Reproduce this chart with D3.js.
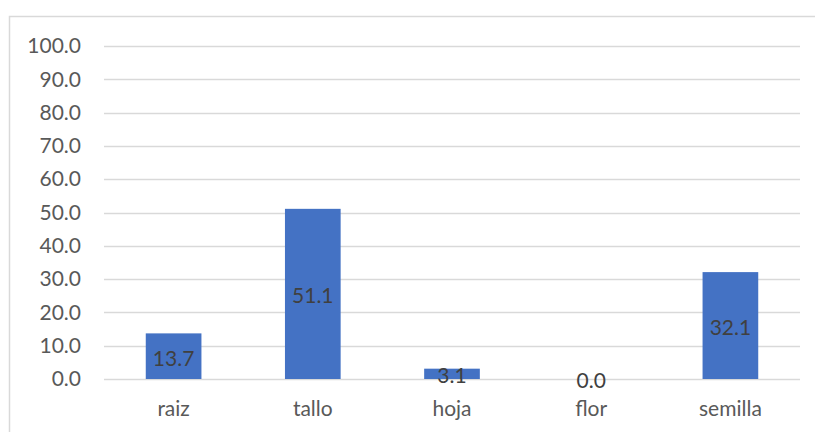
<!DOCTYPE html>
<html>
<head>
<meta charset="utf-8">
<script src="https://cdn.jsdelivr.net/npm/d3@7"></script>
<style>
  html, body { margin: 0; padding: 0; background: #fff; }
  svg { display: block; font-family: Lato, "Liberation Sans", Arial, sans-serif; }
</style>
</head>
<body>
<div id="app"></div>
<script>
const categories = ['raiz', 'tallo', 'hoja', 'flor', 'semilla'];
const values = [13.7, 51.1, 3.1, 0.0, 32.1];
const yTicks = [0, 10, 20, 30, 40, 50, 60, 70, 80, 90, 100];

const conf = {
  width: 815,
  height: 432,
  margin: { top: 46, right: 15, bottom: 53, left: 104 },
  font: 'Lato, "Liberation Sans", Arial, sans-serif',
  fontSize: '21px'
};

const svg = d3.select('#app').append('svg')
  .attr('width', conf.width)
  .attr('height', conf.height);

// chart border (runs off the right and bottom edge)
svg.append('rect')
  .attr('x', 9.5).attr('y', 16.5)
  .attr('width', 830).attr('height', 440)
  .attr('fill', 'none')
  .attr('stroke', '#d9d9d9')
  .attr('stroke-width', 1.5);

const x = d3.scaleBand()
  .domain(categories)
  .range([conf.margin.left, conf.width - conf.margin.right])
  .paddingInner(0.6)
  .paddingOuter(0.3);

const y = d3.scaleLinear()
  .domain([0, 100])
  .range([conf.height - conf.margin.bottom, conf.margin.top]);

// gridlines
svg.append('g')
  .selectAll('line')
  .data(yTicks)
  .enter()
  .append('line')
  .attr('x1', conf.margin.left)
  .attr('x2', conf.width - conf.margin.right)
  .attr('y1', d => Math.round(y(d)) + 0.5)
  .attr('y2', d => Math.round(y(d)) + 0.5)
  .attr('stroke', '#d9d9d9')
  .attr('stroke-width', 1.5);

// y axis labels
const yAxis = svg.append('g')
  .attr('transform', `translate(${conf.margin.left - 23}, 0)`)
  .call(d3.axisLeft(y).tickValues(yTicks).tickFormat(d3.format('.1f')).tickSize(0).tickPadding(0));
yAxis.select('.domain').remove();
yAxis.selectAll('text')
  .attr('fill', '#595959')
  .style('font-size', conf.fontSize)
  .style('font-family', conf.font);

// x axis labels
const xAxis = svg.append('g')
  .attr('transform', `translate(0, ${y(0) + 22})`)
  .call(d3.axisBottom(x).tickSize(0).tickPadding(0));
xAxis.select('.domain').remove();
xAxis.selectAll('text')
  .attr('fill', '#595959')
  .style('font-size', conf.fontSize)
  .style('font-family', conf.font);

// bars
svg.append('g')
  .selectAll('rect')
  .data(categories)
  .enter()
  .append('rect')
  .attr('x', d => x(d))
  .attr('y', (d, i) => y(values[i]))
  .attr('width', x.bandwidth())
  .attr('height', (d, i) => y(0) - y(values[i]))
  .attr('fill', '#4472c4');

// data labels, centred in the bar
svg.append('g')
  .selectAll('text')
  .data(categories)
  .enter()
  .append('text')
  .attr('x', d => x(d) + x.bandwidth() / 2)
  .attr('y', (d, i) => (y(values[i]) + y(0)) / 2 + 2)
  .attr('dy', '0.35em')
  .attr('text-anchor', 'middle')
  .attr('fill', '#404040')
  .style('font-size', conf.fontSize)
  .style('font-family', conf.font)
  .text((d, i) => d3.format('.1f')(values[i]));
</script>
</body>
</html>
